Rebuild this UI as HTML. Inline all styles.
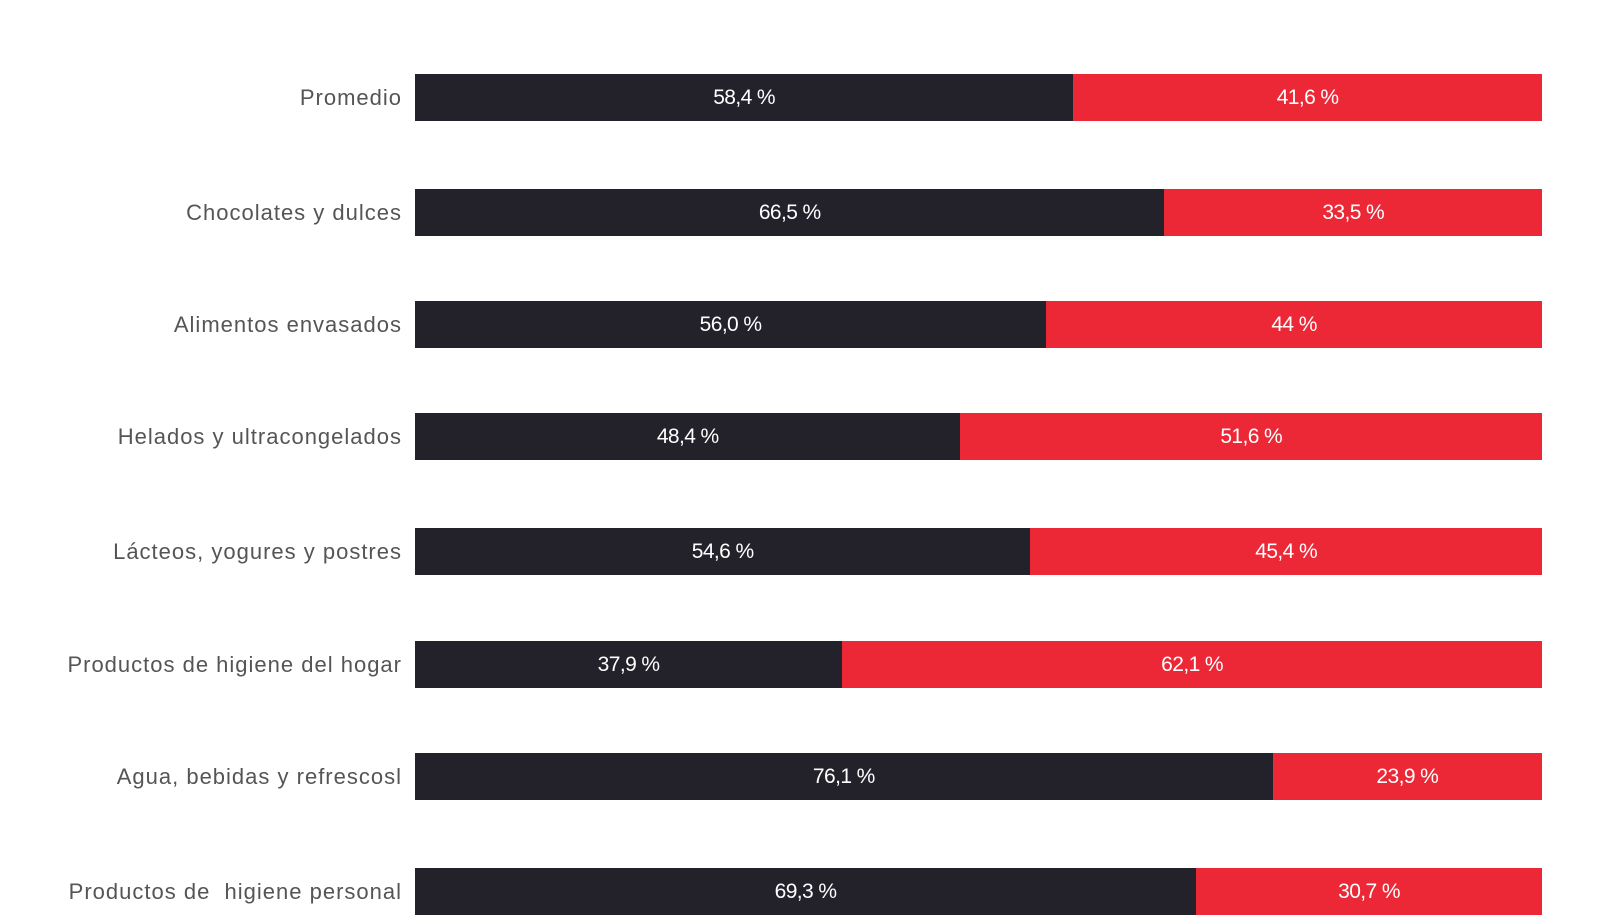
<!DOCTYPE html>
<html><head><meta charset="utf-8"><style>
body{margin:0;width:1600px;height:900px;background:#fff;overflow:hidden;position:relative;font-family:"Liberation Sans",sans-serif}
.row{position:absolute;left:0;width:1600px;height:47px}
.lab{position:absolute;left:0;width:402px;text-align:right;color:#555;font-size:22px;letter-spacing:1px;line-height:47px;top:0;white-space:nowrap}
.bar{position:absolute;left:415px;width:1127px;height:47px;display:flex;top:0}
.d{background:#23222b;color:#fff;font-size:21px;text-align:center;line-height:47px;letter-spacing:-0.6px}
.r{background:#ec2836;color:#fff;font-size:21px;text-align:center;line-height:47px;flex:1;letter-spacing:-0.6px}
</style></head><body>
<div class="row" style="top:74px"><div class="lab">Promedio</div><div class="bar"><div class="d" style="width:58.4%">58,4 %</div><div class="r">41,6 %</div></div></div>
<div class="row" style="top:189px"><div class="lab">Chocolates y dulces</div><div class="bar"><div class="d" style="width:66.5%">66,5 %</div><div class="r">33,5 %</div></div></div>
<div class="row" style="top:301px"><div class="lab">Alimentos envasados</div><div class="bar"><div class="d" style="width:56%">56,0 %</div><div class="r">44 %</div></div></div>
<div class="row" style="top:413px"><div class="lab">Helados y ultracongelados</div><div class="bar"><div class="d" style="width:48.4%">48,4 %</div><div class="r">51,6 %</div></div></div>
<div class="row" style="top:528px"><div class="lab">Lácteos, yogures y postres</div><div class="bar"><div class="d" style="width:54.6%">54,6 %</div><div class="r">45,4 %</div></div></div>
<div class="row" style="top:641px"><div class="lab">Productos de higiene del hogar</div><div class="bar"><div class="d" style="width:37.9%">37,9 %</div><div class="r">62,1 %</div></div></div>
<div class="row" style="top:753px"><div class="lab">Agua, bebidas y refrescosl</div><div class="bar"><div class="d" style="width:76.1%">76,1 %</div><div class="r">23,9 %</div></div></div>
<div class="row" style="top:868px"><div class="lab">Productos de &nbsp;higiene personal</div><div class="bar"><div class="d" style="width:69.3%">69,3 %</div><div class="r">30,7 %</div></div></div>
</body></html>
